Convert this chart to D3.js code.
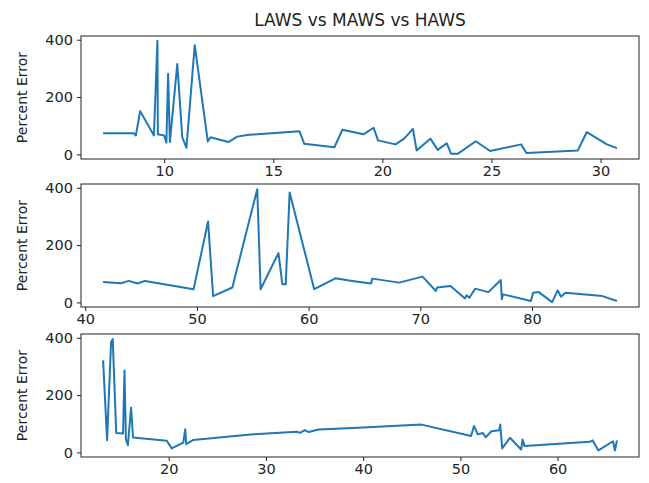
<!DOCTYPE html>
<html>
<head>
<meta charset="utf-8">
<script src="https://cdn.jsdelivr.net/npm/d3@7"></script>
<style>
  body { margin: 0; background: #fff; }
  svg { display: block; }
</style>
</head>
<body>
<svg id="chart" width="649" height="483"></svg>
<script>
// LAWS
const lawsX = [7.2, 8.6, 8.7, 8.9, 9.53, 9.69, 9.71, 10.0, 10.1, 10.18, 10.26, 10.6, 10.83, 11.02, 11.4, 12.0, 12.12, 12.94, 13.35, 13.8, 16.2, 16.42, 17.8, 18.17, 19.13, 19.6, 19.8, 20.6, 21.0, 21.4, 21.57, 22.2, 22.54, 22.95, 23.15, 23.45, 24.28, 24.94, 26.36, 26.6, 28.96, 29.37, 30.29, 30.75];
const lawsY = [74, 74, 66, 151, 66, 396, 70, 66, 41, 281, 43, 315, 60, 23, 381, 45, 60, 43, 62, 68, 81, 37, 25, 86, 70, 93, 49, 35, 55, 89, 14, 55, 16, 39, 2, 2, 46, 12, 35, 5, 14, 78, 35, 22];

// MAWS
const mawsX = [41.6, 43.2, 43.9, 44.7, 45.35, 49.7, 51.0, 51.45, 53.17, 55.4, 55.7, 57.3, 57.65, 57.95, 58.3, 60.5, 62.4, 63.9, 65.6, 65.7, 68.1, 70.2, 71.4, 71.5, 72.7, 74.0, 74.15, 74.4, 74.9, 76.1, 77.2, 77.3, 77.4, 79.9, 80.1, 80.6, 81.8, 82.3, 82.6, 83.0, 86.3, 87.6];
const mawsY = [71, 67, 75, 66, 75, 46, 282, 22, 52, 395, 46, 172, 63, 63, 383, 46, 84, 75, 66, 83, 69, 90, 40, 52, 57, 14, 25, 16, 48, 36, 78, 11, 28, 5, 34, 36, 1, 42, 20, 34, 22, 5];

// HAWS
const hawsX = [13.25, 13.66, 14.07, 14.24, 14.6, 15.3, 15.45, 15.6, 15.8, 16.13, 16.33, 19.8, 20.3, 21.5, 21.7, 21.8, 22.5, 28.7, 33.2, 33.5, 34.0, 34.4, 35.4, 39.5, 46.0, 51.1, 51.4, 51.8, 52.3, 52.6, 53.2, 54.0, 54.1, 54.3, 55.1, 56.25, 56.4, 56.6, 63.3, 63.6, 64.2, 65.7, 65.9, 66.1];
const hawsY = [321, 43, 385, 395, 68, 66, 286, 45, 25, 156, 52, 41, 14, 34, 81, 29, 43, 63, 72, 68, 78, 71, 80, 86, 97, 57, 92, 63, 68, 53, 74, 77, 97, 14, 51, 10, 45, 22, 37, 42, 7, 39, 7, 42];

const xTicks = [[10, 15, 20, 25, 30], [40, 50, 60, 70, 80], [20, 30, 40, 50, 60]];
const yTicks = [0, 200, 400];

const title = "LAWS vs MAWS vs HAWS";
const yLabel = "Percent Error";

const svg = d3.select("#chart");
const left = 81, right = 639;
const tops = [36, 184, 334];
const panelH = 123;
const lineColor = "#1f77b4";
const font = "DejaVu Sans, sans-serif";
const margin = 0.043;

const series = [[lawsX, lawsY], [mawsX, mawsY], [hawsX, hawsY]];

function padded(ext) {
  let r = ext[1] - ext[0];
  return [ext[0] - r * margin, ext[1] + r * margin];
}

let yDomain = padded(d3.extent(lawsY.concat(mawsY, hawsY)));

series.forEach(function(s, i) {
  let xs = s[0], ys = s[1];
  let top = tops[i];
  let x = d3.scaleLinear().domain(padded(d3.extent(xs))).range([left, right]);
  let y = d3.scaleLinear().domain(yDomain).range([top + panelH, top]);

  let g = svg.append("g");

  let line = d3.line()
    .x(d => x(xs[d]))
    .y(d => y(ys[d]));

  g.append("path")
    .datum(d3.range(xs.length))
    .attr("d", line)
    .attr("fill", "none")
    .attr("stroke", lineColor)
    .attr("stroke-width", 2)
    .attr("stroke-linejoin", "round");

  // x-axis
  g.append("g")
    .attr("transform", "translate(0," + (top + panelH) + ")")
    .style("font-family", font)
    .style("font-size", "14.5px")
    .call(d3.axisBottom(x).tickValues(xTicks[i]).tickSize(4).tickPadding(3).tickFormat(d3.format("d")))
    .call(g => g.select(".domain").remove())
    .call(g => g.selectAll(".tick line").attr("stroke", "#222"))
    .call(g => g.selectAll(".tick text").attr("fill", "#222"));

  // y-axis
  g.append("g")
    .attr("transform", "translate(" + left + ",0)")
    .style("font-family", font)
    .style("font-size", "14.5px")
    .call(d3.axisLeft(y).tickValues(yTicks).tickSize(4).tickPadding(4))
    .call(g => g.select(".domain").remove())
    .call(g => g.selectAll(".tick line").attr("stroke", "#222"))
    .call(g => g.selectAll(".tick text").attr("fill", "#222"));

  // frame
  g.append("rect")
    .attr("x", left)
    .attr("y", top)
    .attr("width", right - left)
    .attr("height", panelH)
    .attr("fill", "none")
    .attr("stroke", "#222")
    .attr("stroke-width", 1);

  svg.append("text")
    .attr("transform", "translate(22," + (top + panelH / 2) + ") rotate(-90)")
    .attr("text-anchor", "middle")
    .attr("dy", "0.35em")
    .style("font-family", font)
    .style("font-size", "14px")
    .attr("fill", "#222")
    .text(yLabel);
});

svg.append("text")
  .attr("x", (left + right) / 2)
  .attr("y", 26)
  .attr("text-anchor", "middle")
  .style("font-family", font)
  .style("font-size", "17px")
  .attr("fill", "#222")
  .text(title);
</script>
</body>
</html>
